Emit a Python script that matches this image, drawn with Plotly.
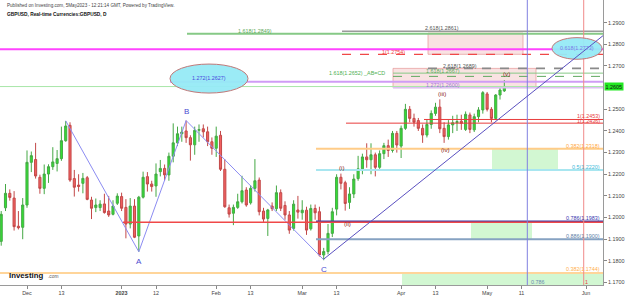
import numpy as np
import pandas as pd
import plotly.graph_objects as go

# ---------------- data ----------------
dates = [
    "2022-11-23", "2022-11-24", "2022-11-25", "2022-11-28", "2022-11-29", "2022-11-30",
    "2022-12-01", "2022-12-02", "2022-12-05", "2022-12-06", "2022-12-07", "2022-12-08", "2022-12-09",
    "2022-12-12", "2022-12-13", "2022-12-14", "2022-12-15", "2022-12-16", "2022-12-19", "2022-12-20",
    "2022-12-21", "2022-12-22", "2022-12-23", "2022-12-26", "2022-12-27", "2022-12-28", "2022-12-29",
    "2022-12-30",
    "2023-01-02", "2023-01-03", "2023-01-04", "2023-01-05", "2023-01-06", "2023-01-09", "2023-01-10",
    "2023-01-11", "2023-01-12", "2023-01-13", "2023-01-16", "2023-01-17", "2023-01-18", "2023-01-19",
    "2023-01-20", "2023-01-23", "2023-01-24", "2023-01-25", "2023-01-26", "2023-01-27", "2023-01-30",
    "2023-01-31",
    "2023-02-01", "2023-02-02", "2023-02-03", "2023-02-06", "2023-02-07", "2023-02-08", "2023-02-09",
    "2023-02-10", "2023-02-13", "2023-02-14", "2023-02-15", "2023-02-16", "2023-02-17", "2023-02-20",
    "2023-02-21", "2023-02-22", "2023-02-23", "2023-02-24", "2023-02-27", "2023-02-28",
    "2023-03-01", "2023-03-02", "2023-03-03", "2023-03-06", "2023-03-07", "2023-03-08", "2023-03-09",
    "2023-03-10", "2023-03-13", "2023-03-14", "2023-03-15", "2023-03-16", "2023-03-17", "2023-03-20",
    "2023-03-21", "2023-03-22", "2023-03-23", "2023-03-24", "2023-03-27", "2023-03-28", "2023-03-29",
    "2023-03-30", "2023-03-31",
    "2023-04-03", "2023-04-04", "2023-04-05", "2023-04-06", "2023-04-07", "2023-04-10", "2023-04-11",
    "2023-04-12", "2023-04-13", "2023-04-14", "2023-04-17", "2023-04-18", "2023-04-19", "2023-04-20",
    "2023-04-21", "2023-04-24", "2023-04-25", "2023-04-26", "2023-04-27", "2023-04-28",
    "2023-05-01", "2023-05-02", "2023-05-03", "2023-05-04", "2023-05-05",
]
opens = [
    1.1890, 1.2045, 1.2112, 1.2090, 1.1960, 1.1955,
    1.2058, 1.2255, 1.2268, 1.2186, 1.2135, 1.2201, 1.2235, 1.2250, 1.2272, 1.2355, 1.2426, 1.2180,
    1.2150, 1.2158, 1.2184, 1.2081, 1.2046, 1.2046, 1.2063, 1.2030, 1.2015, 1.2066,
    1.2097, 1.2047, 1.1970, 1.2053, 1.1915, 1.2094, 1.2189, 1.2155, 1.2146, 1.2212, 1.2227, 1.2197,
    1.2283, 1.2345, 1.2387, 1.2400, 1.2369, 1.2336, 1.2403, 1.2410, 1.2396, 1.2350,
    1.2320, 1.2380, 1.2223, 1.2045, 1.2020, 1.2047, 1.2073, 1.2127, 1.2068, 1.2135, 1.2173, 1.2030,
    1.1996, 1.2053, 1.2041, 1.2115, 1.2056, 1.2012, 1.1950, 1.2035,
    1.2022, 1.2034, 1.1948, 1.2042, 1.2027, 1.1827, 1.1843, 1.1927, 1.2039, 1.2186, 1.2161, 1.2070,
    1.2109, 1.2180, 1.2225, 1.2280, 1.2267, 1.2290, 1.2232, 1.2295, 1.2332, 1.2310, 1.2389,
    1.2330, 1.2412, 1.2500, 1.2458, 1.2448, 1.2412, 1.2381, 1.2430, 1.2481, 1.2510, 1.2412, 1.2374,
    1.2428, 1.2438, 1.2445, 1.2407, 1.2474, 1.2405, 1.2466, 1.2497,
    1.2571, 1.2500, 1.2458, 1.2566, 1.2585,
]
highs = [
    1.2030, 1.2155, 1.2130, 1.2122, 1.2030, 1.2090,
    1.2310, 1.2305, 1.2345, 1.2198, 1.2245, 1.2246, 1.2325, 1.2312, 1.2420, 1.2446, 1.2440, 1.2220,
    1.2200, 1.2206, 1.2192, 1.2096, 1.2088, 1.2080, 1.2110, 1.2100, 1.2080, 1.2112,
    1.2115, 1.2085, 1.2090, 1.2085, 1.2100, 1.2212, 1.2210, 1.2170, 1.2250, 1.2266, 1.2245, 1.2300,
    1.2435, 1.2420, 1.2420, 1.2448, 1.2380, 1.2420, 1.2430, 1.2430, 1.2420, 1.2370,
    1.2420, 1.2400, 1.2270, 1.2060, 1.2060, 1.2110, 1.2193, 1.2140, 1.2150, 1.2270, 1.2185, 1.2045,
    1.2040, 1.2070, 1.2148, 1.2130, 1.2075, 1.2030, 1.2080, 1.2100,
    1.2080, 1.2050, 1.2060, 1.2060, 1.2050, 1.1860, 1.1970, 1.2045, 1.2200, 1.2203, 1.2170, 1.2140,
    1.2200, 1.2285, 1.2295, 1.2343, 1.2343, 1.2300, 1.2310, 1.2345, 1.2360, 1.2400, 1.2400,
    1.2425, 1.2525, 1.2515, 1.2480, 1.2460, 1.2430, 1.2455, 1.2495, 1.2530, 1.2546, 1.2440, 1.2450,
    1.2470, 1.2475, 1.2475, 1.2490, 1.2485, 1.2480, 1.2510, 1.2584,
    1.2580, 1.2510, 1.2570, 1.2600, 1.2635,
]
lows = [
    1.1870, 1.2030, 1.2078, 1.1940, 1.1945, 1.1900,
    1.2045, 1.2210, 1.2180, 1.2110, 1.2108, 1.2160, 1.2220, 1.2213, 1.2262, 1.2350, 1.2165, 1.2097,
    1.2120, 1.2112, 1.2080, 1.1993, 1.2025, 1.2030, 1.2018, 1.2003, 1.2010, 1.2058,
    1.2030, 1.1904, 1.1950, 1.1905, 1.1842, 1.2088, 1.2120, 1.2120, 1.2096, 1.2190, 1.2170, 1.2170,
    1.2255, 1.2330, 1.2350, 1.2345, 1.2263, 1.2290, 1.2350, 1.2370, 1.2330, 1.2290,
    1.2280, 1.2215, 1.2045, 1.2000, 1.1965, 1.2040, 1.2065, 1.2050, 1.2060, 1.2120, 1.2010, 1.1980,
    1.1915, 1.2030, 1.2030, 1.2030, 1.1990, 1.1925, 1.1940, 1.1995,
    1.1990, 1.1920, 1.1940, 1.1990, 1.1820, 1.1803, 1.1830, 1.1910, 1.2010, 1.2130, 1.2032, 1.2040,
    1.2090, 1.2170, 1.2200, 1.2230, 1.2200, 1.2190, 1.2225, 1.2270, 1.2280, 1.2300, 1.2300,
    1.2275, 1.2405, 1.2440, 1.2420, 1.2400, 1.2345, 1.2370, 1.2410, 1.2470, 1.2390, 1.2345, 1.2360,
    1.2390, 1.2400, 1.2405, 1.2400, 1.2390, 1.2395, 1.2440, 1.2480,
    1.2490, 1.2440, 1.2450, 1.2545, 1.2580,
]
closes = [
    1.2015, 1.2112, 1.2093, 1.1958, 1.1953, 1.2058,
    1.2255, 1.2286, 1.2192, 1.2135, 1.2201, 1.2235, 1.2257, 1.2272, 1.2355, 1.2423, 1.2173, 1.2140,
    1.2144, 1.2181, 1.2084, 1.2043, 1.2058, 1.2062, 1.2023, 1.2012, 1.2053, 1.2099,
    1.2043, 1.1970, 1.2053, 1.1909, 1.2094, 1.2186, 1.2155, 1.2143, 1.2201, 1.2227, 1.2197, 1.2283,
    1.2345, 1.2387, 1.2395, 1.2369, 1.2336, 1.2403, 1.2406, 1.2396, 1.2350, 1.2320,
    1.2376, 1.2223, 1.2050, 1.2016, 1.2047, 1.2073, 1.2124, 1.2058, 1.2135, 1.2170, 1.2027, 1.1993,
    1.2035, 1.2041, 1.2115, 1.2043, 1.2012, 1.1942, 1.2062, 1.2025,
    1.2034, 1.1942, 1.2042, 1.2022, 1.1827, 1.1843, 1.1927, 1.2027, 1.2186, 1.2158, 1.2065, 1.2109,
    1.2178, 1.2225, 1.2280, 1.2267, 1.2290, 1.2232, 1.2295, 1.2332, 1.2310, 1.2389, 1.2335,
    1.2412, 1.2500, 1.2458, 1.2440, 1.2412, 1.2381, 1.2430, 1.2481, 1.2510, 1.2410, 1.2374, 1.2428,
    1.2438, 1.2443, 1.2435, 1.2477, 1.2407, 1.2466, 1.2497, 1.2577,
    1.2500, 1.2458, 1.2566, 1.2589, 1.2605,
]
last_price = 1.2605

# ABC pattern pivots
abc_dates = ["2022-12-14", "2023-01-06", "2023-01-23", "2023-03-08"]
abc_prices = [1.2447, 1.1842, 1.2448, 1.1805]
abc_labels = ["", "A", "B", "C"]

# x-axis tick labels
tick_dates = ["2022-12-01", "2022-12-13", "2023-01-02", "2023-01-12", "2023-02-01", "2023-02-13",
              "2023-03-01", "2023-03-13", "2023-04-03", "2023-04-13", "2023-05-01", "2023-05-11",
              "2023-06-01"]
tick_text = ["Dec", "13", "<b>2023</b>", "12", "Feb", "13", "Mar", "13", "Apr", "13", "May", "11", "Jun"]
# 1.2600 is hidden behind the last-price badge in the reference
y_ticks = [1.17, 1.18, 1.19, 1.20, 1.21, 1.22, 1.23, 1.24, 1.25, 1.27, 1.28, 1.29]

# ---------------- helpers ----------------
cal = pd.bdate_range("2022-11-14", "2023-06-30")
i0 = list(cal).index(pd.Timestamp("2022-12-01"))


def bx(f):
    """fractional trading-bar position (0 = 1 Dec 2022) -> timestamp"""
    n = int(np.floor(f + 0.5))
    frac = f + 0.5 - n
    d = cal[i0 + n] + pd.Timedelta(hours=24 * frac)
    return d.strftime("%Y-%m-%d %H:%M:%S")


X_LEFT, X_RIGHT = -6.28, 133.95
Y_LO, Y_HI = 1.16885, 1.30048
PW, PH = 603.0, 285.0


def px2f(px):
    return (px - 27.0) / 4.3


xs = [d + " 12:00:00" for d in dates]

fig = go.Figure()

shapes = []


def hline(price, px0, color, width=1.0, dash="solid", layer="above"):
    if px0 is None:
        shapes.append(dict(type="line", xref="paper", yref="y", x0=0, x1=1, y0=price, y1=price,
                           line=dict(color=color, width=width, dash=dash), layer=layer))
    else:
        shapes.append(dict(type="line", xref="x", yref="y", x0=bx(px2f(px0)), x1=bx(X_RIGHT),
                           y0=price, y1=price, line=dict(color=color, width=width, dash=dash),
                           layer=layer))


def rect(px0, px1, p0, p1, fill, line="rgba(0,0,0,0)", layer="below"):
    shapes.append(dict(type="rect", xref="x", yref="y", x0=bx(px2f(px0)), x1=bx(px2f(px1)),
                       y0=p0, y1=p1, fillcolor=fill, line=dict(color=line, width=1), layer=layer))


# boxes (below candles)
rect(402, 603, Y_LO, 1.1744, "#d2f7d2")
rect(492, 558, 1.2220, 1.2318, "#d2f7d2")
rect(471, 532, 1.1900, 1.1978, "#d2f7d2")
rect(428, 523, 1.2754, 1.2852, "rgba(242,190,190,0.45)", "rgba(230,150,150,0.7)")
rect(393, 536, 1.2600, 1.2689, "rgba(242,190,190,0.45)", "rgba(230,150,150,0.7)")

# horizontal levels
hline(1.1744, None, "#ffd59a", 2)
hline(1.2777, None, "#ff44ff", 2)
hline(last_price, None, "#a8e6a8", 1)
hline(1.2849, 187, "#86c986", 2)
hline(1.2861, 342, "#9a9a9a", 1.5)
hline(1.2754, 342, "#f04848", 1.3, "dash")
hline(1.2689, 428, "#8a8a8a", 1.6, "dash")
hline(1.2667, 393, "#86c986", 1)
hline(1.2652, 393, "#5fa85f", 1, "dash")
hline(1.2627, 170, "#cf9cf5", 2)
hline(1.2600, 393, "#dcc0f2", 1.5)
hline(1.2453, 424, "#e83c3c", 1)
hline(1.2436, 346, "#e83c3c", 1)
hline(1.2318, 316, "#ffcc88", 2)
hline(1.2220, 316, "#a8e6f0", 2)
hline(1.1983, 316, "#3c3ca8", 1.5)
hline(1.1978, 123, "#f04848", 1.5)
hline(1.1900, 316, "#86a2c2", 2)

# vertical lines
shapes.append(dict(type="line", xref="x", yref="paper", x0=bx(px2f(527.3)), x1=bx(px2f(527.3)),
                   y0=0, y1=1, line=dict(color="#8080e0", width=1)))
shapes.append(dict(type="line", xref="x", yref="paper", x0=bx(px2f(583.7)), x1=bx(px2f(583.7)),
                   y0=0, y1=1, line=dict(color="#f08a8a", width=1)))

# ellipses
shapes.append(dict(type="circle", xref="x", yref="y", x0=bx(px2f(170)), x1=bx(px2f(248)),
                   y0=1.2575, y1=1.2709, fillcolor="rgba(150,234,246,0.95)",
                   line=dict(color="#c07878", width=1)))
shapes.append(dict(type="circle", xref="x", yref="y", x0=bx(px2f(552)), x1=bx(px2f(602)),
                   y0=1.2731, y1=1.2831, fillcolor="rgba(150,234,246,0.95)",
                   line=dict(color="#c07878", width=1)))

# trend line from C extended to the right edge
slope = 0.001589
c_f = 69.0
shapes.append(dict(type="line", xref="x", yref="y", x0=bx(c_f), y0=1.1808,
                   x1=bx(X_RIGHT), y1=1.1808 + slope * (X_RIGHT - c_f),
                   line=dict(color="#5a50c0", width=1)))

# candles
fig.add_trace(go.Candlestick(
    x=xs, open=opens, high=highs, low=lows, close=closes,
    increasing=dict(fillcolor="#33e033", line=dict(color="#45a845", width=1)),
    decreasing=dict(fillcolor="#f26060", line=dict(color="#c24848", width=1)),
    whiskerwidth=0, hoverinfo="skip", showlegend=False,
))

# ABC lines
fig.add_trace(go.Scatter(
    x=[d + " 12:00:00" for d in abc_dates], y=abc_prices, mode="lines",
    line=dict(color="#8c8cf2", width=1), hoverinfo="skip", showlegend=False,
))

# ---------------- annotations ----------------
anns = []


def ann(px, py, text, color, size, xanchor="center", yanchor="middle", bold=False, **kw):
    t = f"<b>{text}</b>" if bold else text
    d = dict(xref="paper", yref="paper", x=px / PW, y=1 - py / PH, text=t, showarrow=False,
             xanchor=xanchor, yanchor=yanchor, font=dict(color=color, size=size,
                                                          family="Liberation Sans"))
    d.update(kw)
    anns.append(d)


ann(5, 6, "Published on Investing.com, 5May2023 - 12:21:14 GMT, Powered by TradingView.",
    "#444444", 4.6, xanchor="left")
ann(5, 14, "GBPUSD, Real-time Currencies:GBPUSD, D", "#111111", 4.8, xanchor="left", bold=True)

ann(7, 275, "Investing", "#111111", 7.8, xanchor="left", bold=True)
ann(46, 276, ".com", "#555555", 4.8, xanchor="left")

ann(255, 31, "1.618(1.2849)", "#5aa85a", 5.4)
ann(442, 28.5, "2.618(1.2861)", "#555555", 5.4)
ann(393, 52, "1(1.2754)", "#f04040", 5.4)
ann(460, 66, "2.618(1.2689)", "#555555", 5.4)
ann(443, 71, "1.618(1.2667)", "#5aa85a", 5.4)
ann(357, 73, "1.618(1.2652) _AB=CD", "#4caf50", 5.4)
ann(443, 85, "1.272(1.2600)", "#a070e0", 5.4)
ann(577, 48, "0.618(1.2773)", "#7a7ae8", 5.4)
ann(209, 78, "1.272(1.2627)", "#4848e0", 5.4)

ann(602, 116.5, "1(1.2453)", "#e83c3c", 5.4, xanchor="right")
ann(602, 120.5, "1(1.2436)", "#e83c3c", 5.4, xanchor="right")
ann(602, 146, "0.382(1.2318)", "#ffa83c", 5.4, xanchor="right")
ann(602, 167, "0.5(1.2220)", "#40b8d8", 5.4, xanchor="right")
ann(602, 218, "0.786(1.1983)", "#3838b0", 5.4, xanchor="right")
ann(602, 236, "0.886(1.1900)", "#6080a8", 5.4, xanchor="right")
ann(602, 269, "0.382(1.1744)", "#ffb04d", 5.4, xanchor="right")
ann(529, 282, "0.786", "#6a8ab0", 5.4, xanchor="left")
ann(586, 282, "1", "#e83c3c", 5.4)

# wave labels
ann(342, 167, "(i)", "#8b2222", 6.2)
ann(347, 223, "(ii)", "#8b2222", 6.2)
ann(442, 93, "(iii)", "#8b2222", 6.2)
ann(445, 149, "(iv)", "#8b2222", 6.2)
ann(506, 73, "(v)", "#8b2222", 6.2)

# ABC labels (placed from the pivot values)
for d, p, lab in zip(abc_dates, abc_prices, abc_labels):
    if not lab:
        continue
    below = lab in ("A", "C")
    anns.append(dict(xref="x", yref="y", x=d + " 12:00:00", y=p, text=lab, showarrow=False,
                     yanchor="top" if below else "bottom", yshift=-3 if below else 3,
                     font=dict(color="#4a4ad0", size=8, family="Liberation Sans")))

# last price badge
anns.append(dict(xref="paper", yref="y", x=1, y=last_price, xanchor="left", yanchor="middle",
                 xshift=1, text=f"{last_price:.4f}", showarrow=False, bgcolor="#22e822",
                 borderpad=0.5, font=dict(color="#111111", size=5.4, family="Liberation Sans")))

fig.update_layout(
    width=625, height=296,
    margin=dict(l=0, r=22, t=0, b=11),
    paper_bgcolor="white", plot_bgcolor="white",
    showlegend=False,
    shapes=shapes, annotations=anns,
    font=dict(family="Liberation Sans"),
    xaxis=dict(
        type="date", range=[bx(X_LEFT), bx(X_RIGHT)],
        rangebreaks=[dict(bounds=["sat", "mon"])],
        rangeslider=dict(visible=False),
        showgrid=False, zeroline=False,
        tickmode="array", tickvals=[d + " 12:00:00" for d in tick_dates], ticktext=tick_text,
        ticks="outside", ticklen=3, tickcolor="#888888",
        tickfont=dict(size=5.4, color="#444444"),
        showline=True, linecolor="#9a9a9a", linewidth=1,
    ),
    yaxis=dict(
        side="right", range=[Y_LO, Y_HI],
        showgrid=False, zeroline=False,
        tickmode="array", tickvals=y_ticks, ticktext=[f"{v:.4f}" for v in y_ticks],
        ticks="outside", ticklen=3, tickcolor="#888888",
        tickfont=dict(size=5.4, color="#444444"),
        showline=True, linecolor="#9a9a9a", linewidth=1,
    ),
)

fig.write_html("out.html")
